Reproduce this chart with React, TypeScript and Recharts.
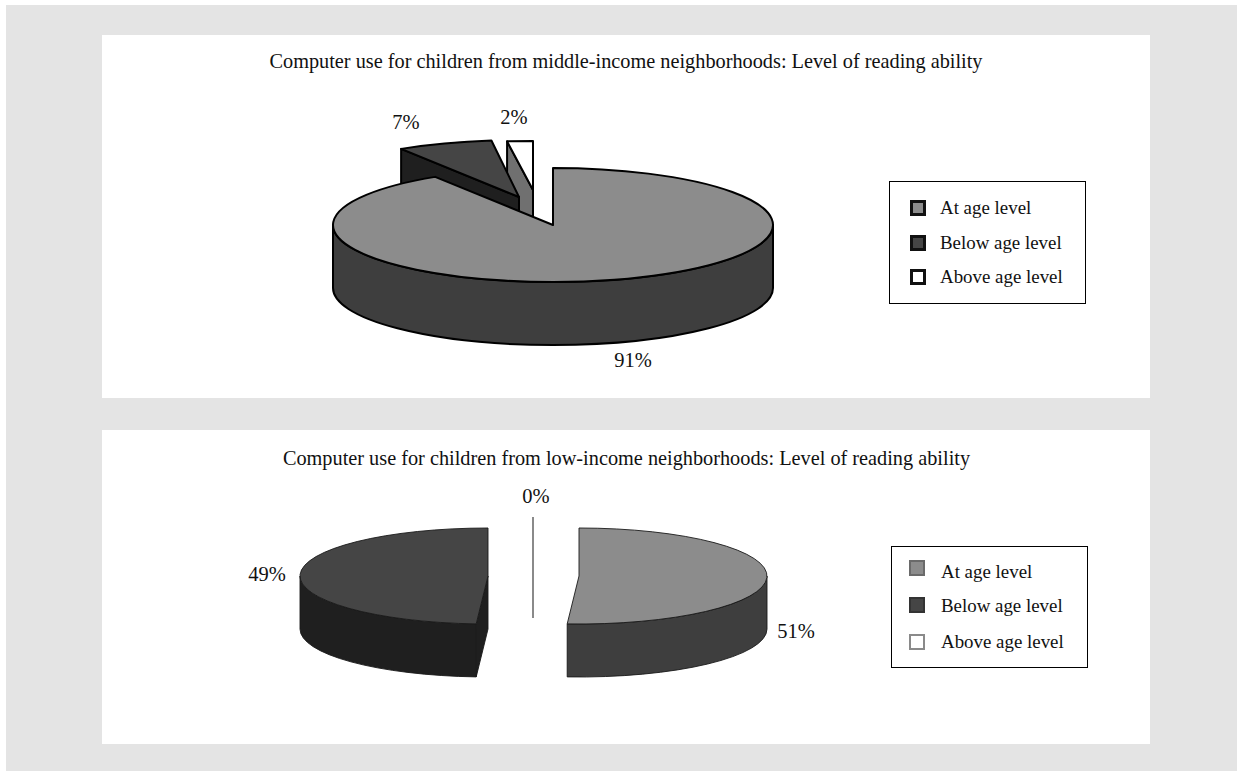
import React from "react";
import { PieChart, Pie, Legend } from "recharts";

// ---- data (drawn counter-clockwise from 12 o'clock so the big slice paints last)
const categories = ["Above age level", "Below age level", "At age level"];
const middleIncomeValues = [2, 7, 91];
const lowIncomeValues = [0, 49, 51];
const legendOrder = ["At age level", "Below age level", "Above age level"];
const middleTitle = "Computer use for children from middle-income neighborhoods: Level of reading ability";
const lowTitle = "Computer use for children from low-income neighborhoods: Level of reading ability";

const toRows = (values: number[]) => values.map((value, i) => ({ name: categories[i], value }));
const middleRows = toRows(middleIncomeValues);
const lowRows = toRows(lowIncomeValues);

// ---- styles
const FONT = "'Liberation Serif', serif";
const MARGIN = { top: 0, right: 0, bottom: 0, left: 0 };
const topColors: Record<string, string> = {
  "At age level": "#8c8c8c",
  "Below age level": "#454545",
  "Above age level": "#ffffff",
};
const sideColors: Record<string, string> = {
  "At age level": "#3e3e3e",
  "Below age level": "#1f1f1f",
  "Above age level": "#707070",
};

type View = {
  squash: number;
  depth: number;
  stroke: string;
  strokeWidth: number;
  shift: Record<string, [number, number]>;
  scale?: Record<string, [number, number]>;
};

const middleView: View = {
  squash: 57 / 220,
  depth: 63,
  stroke: "#000",
  strokeWidth: 2,
  shift: {
    "At age level": [0, 0],
    "Below age level": [-34, -28],
    "Above age level": [-20, -35],
  },
  scale: { "Above age level": [0.94, 0.86] },
};
const lowView: View = {
  squash: 48 / 188,
  depth: 53,
  stroke: "#1a1a1a",
  strokeWidth: 0.9,
  shift: {
    "At age level": [46, 11],
    "Below age level": [-45, 11],
    "Above age level": [0, 0],
  },
};

const makeShape = (view: View) => (props: any) => {
  const { cx, cy, outerRadius: r, startAngle, endAngle, name } = props;
  const label = name ?? props.payload?.name;
  const [dx, dy] = view.shift[label] ?? [0, 0];
  const [kx, ky] = view.scale?.[label] ?? [1, 1];
  const rx = r * kx;
  const ry = r * view.squash * ky;
  const ox = cx + dx;
  const oy = cy + dy;
  // clockwise degrees from 12 o'clock
  const t1 = 90 - startAngle;
  const t2 = 90 - endAngle;
  const a = Math.min(t1, t2);
  const b = Math.max(t1, t2);
  const pt = (deg: number, drop = 0): [number, number] => {
    const q = (deg * Math.PI) / 180;
    return [ox + rx * Math.sin(q), oy - ry * Math.cos(q) + drop];
  };
  const norm = (d: number) => ((d % 360) + 360) % 360;
  const A = norm(a);
  const B = A + (b - a);
  const d = view.depth;
  const top = topColors[label];
  const side = sideColors[label];
  const edge = { stroke: view.stroke, strokeWidth: view.strokeWidth, strokeLinejoin: "round" as const };

  if (b - a < 0.01) {
    const [tx, ty] = pt(A);
    return (
      <path d={`M${tx},${ty} L${ox},${oy} L${ox},${oy + d}`} fill="none" stroke="#8a8a8a" strokeWidth={2} />
    );
  }

  const els: React.ReactNode[] = [];
  // start-edge cut face, visible when it looks toward the viewer
  const sinA = Math.sin((A * Math.PI) / 180);
  if (sinA < -0.001) {
    const [px, py] = pt(A);
    els.push(
      <path key="face" d={`M${ox},${oy} L${px},${py} L${px},${py + d} L${ox},${oy + d} Z`} fill={side} {...edge} />
    );
  }
  // outer wall across the front half
  const w1 = Math.max(A, 90);
  const w2 = Math.min(B, 270);
  if (w2 > w1) {
    const [sx, sy] = pt(w1);
    const [ex, ey] = pt(w2);
    const large = w2 - w1 > 180 ? 1 : 0;
    els.push(
      <path
        key="wall"
        d={`M${sx},${sy} A${rx},${ry} 0 ${large} 1 ${ex},${ey} L${ex},${ey + d} A${rx},${ry} 0 ${large} 0 ${sx},${sy + d} Z`}
        fill={side}
        {...edge}
      />
    );
  }
  // top face
  const [sx, sy] = pt(A);
  const [ex, ey] = pt(B);
  const large = B - A > 180 ? 1 : 0;
  els.push(
    <path
      key="top"
      d={`M${ox},${oy} L${sx},${sy} A${rx},${ry} 0 ${large} 1 ${ex},${ey} Z`}
      fill={top}
      {...edge}
    />
  );
  return <g>{els}</g>;
};

const makeLabel = (offsets: Record<string, [number, number]>) => (props: any) => {
  const { cx, cy, percent, name } = props;
  const label = name ?? props.payload?.name;
  const [dx, dy] = offsets[label];
  return (
    <text x={cx + dx} y={cy + dy} textAnchor="middle" dominantBaseline="central" fontFamily={FONT} fontSize={20.5} fill="#111">
      {`${Math.round(percent * 100)}%`}
    </text>
  );
};

type LegendStyle = {
  swatchX: number;
  swatchYs: number[];
  textX: number;
  textYs: number[];
  swatchBorder: Record<string, string>;
  borderWidth: number;
};

const makeLegend = (st: LegendStyle) => () => (
  <div
    style={{
      position: "relative",
      boxSizing: "border-box",
      border: "1.5px solid #000",
      background: "#fff",
      width: "100%",
      height: "100%",
      fontFamily: FONT,
      fontSize: 18.9,
      color: "#111",
    }}
  >
    {legendOrder.map((lab, i) => (
      <React.Fragment key={lab}>
        <span
          style={{
            position: "absolute",
            boxSizing: "border-box",
            left: st.swatchX - 8,
            top: st.swatchYs[i] - 8,
            width: 16,
            height: 16,
            background: topColors[lab],
            border: `${st.borderWidth}px solid ${st.swatchBorder[lab]}`,
          }}
        />
        <span
          style={{
            position: "absolute",
            left: st.textX,
            top: st.textYs[i] - 11,
            lineHeight: "22px",
            whiteSpace: "nowrap",
          }}
        >
          {lab}
        </span>
      </React.Fragment>
    ))}
  </div>
);

const middleLegend = makeLegend({
  swatchX: 28,
  swatchYs: [26, 61, 95],
  textX: 50,
  textYs: [26, 61, 95],
  swatchBorder: { "At age level": "#111", "Below age level": "#111", "Above age level": "#111" },
  borderWidth: 3,
});
const lowLegend = makeLegend({
  swatchX: 25,
  swatchYs: [21, 58, 95],
  textX: 49,
  textYs: [25, 59, 95],
  swatchBorder: { "At age level": "#6a6a6a", "Below age level": "#333", "Above age level": "#8a8a8a" },
  borderWidth: 2,
});

const panel = (left: number, top: number, height: number): React.CSSProperties => ({
  position: "absolute",
  left,
  top,
  width: 1048,
  height,
  background: "#fff",
});

export default function App() {
  return (
    <div style={{ position: "fixed", left: 0, top: 0, width: 1237, height: 771, background: "#fff", overflow: "hidden" }}>
      <div style={{ position: "absolute", left: 6, top: 5, width: 1231, height: 766, background: "#e4e4e4" }} />
      <div style={panel(102, 35, 363)}>
        <PieChart width={1048} height={363} margin={MARGIN}>
          <text x={524} y={26} textAnchor="middle" dominantBaseline="central" fontFamily={FONT} fontSize={20.3} fill="#111">
            {middleTitle}
          </text>
          <Pie
            data={middleRows}
            dataKey="value"
            nameKey="name"
            cx={451}
            cy={190}
            outerRadius={220}
            startAngle={90}
            endAngle={450}
            stroke="none"
            isAnimationActive={false}
            shape={makeShape(middleView)}
            labelLine={false}
            label={makeLabel({
              "At age level": [80, 135],
              "Below age level": [-147, -103],
              "Above age level": [-39, -108],
            })}
          />
          <Legend
            content={middleLegend}
            wrapperStyle={{ position: "absolute", left: 787, top: 146, width: 197, height: 123, bottom: "auto", right: "auto" }}
          />
        </PieChart>
      </div>
      <div style={panel(102, 430, 314)}>
        <PieChart width={1048} height={314} margin={MARGIN}>
          <text x={524.5} y={28} textAnchor="middle" dominantBaseline="central" fontFamily={FONT} fontSize={20.3} fill="#111">
            {lowTitle}
          </text>
          <Pie
            data={lowRows}
            dataKey="value"
            nameKey="name"
            cx={431}
            cy={135}
            outerRadius={188}
            startAngle={90}
            endAngle={450}
            stroke="none"
            isAnimationActive={false}
            shape={makeShape(lowView)}
            labelLine={false}
            label={makeLabel({
              "At age level": [263, 66],
              "Below age level": [-266, 9],
              "Above age level": [3, -69],
            })}
          />
          <Legend
            content={lowLegend}
            wrapperStyle={{ position: "absolute", left: 789, top: 116, width: 197, height: 122, bottom: "auto", right: "auto" }}
          />
        </PieChart>
      </div>
    </div>
  );
}
